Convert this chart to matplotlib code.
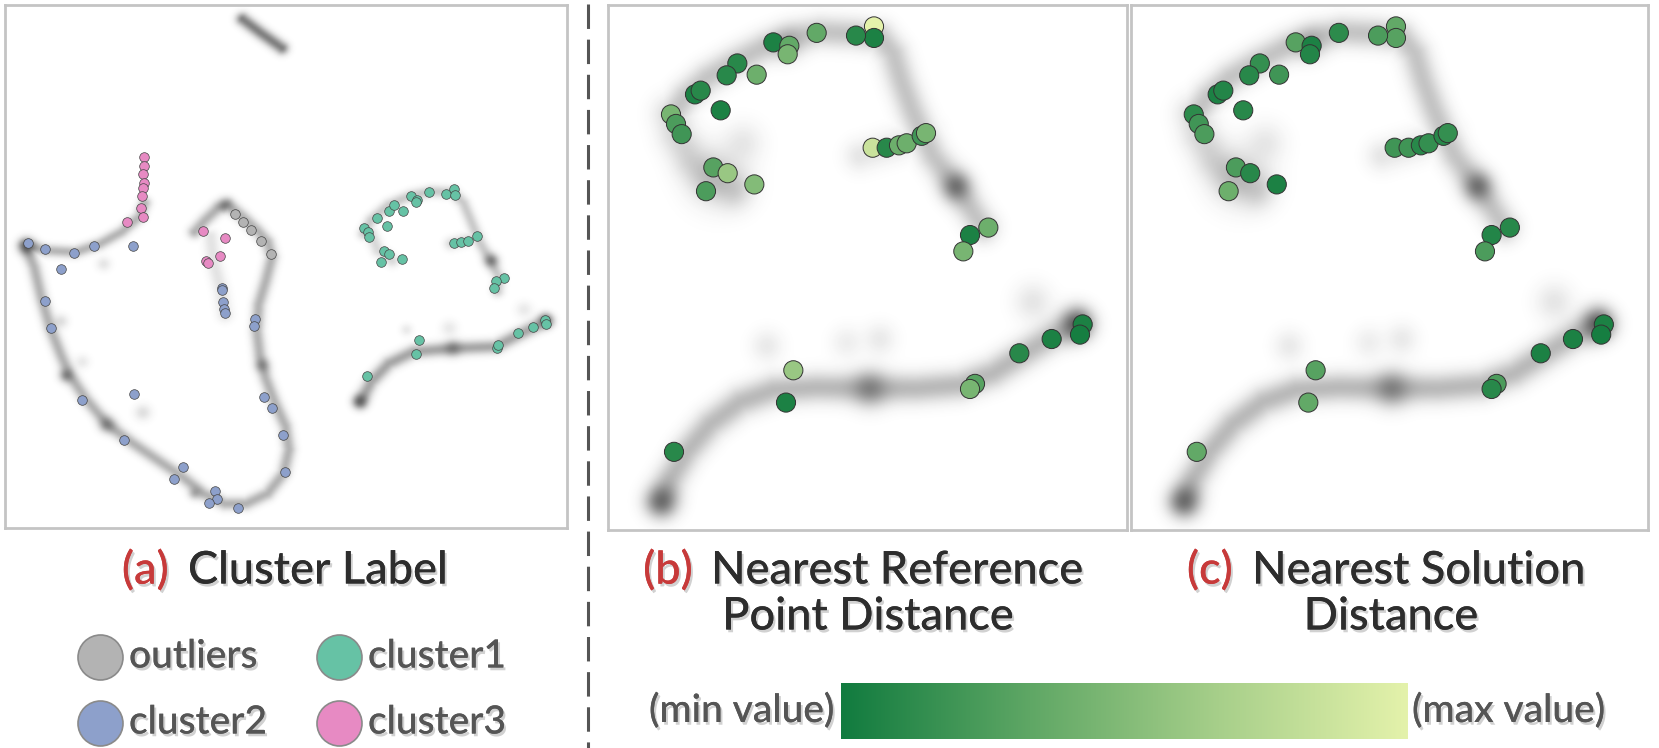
import numpy as np
import matplotlib
matplotlib.use("Agg")
import matplotlib.pyplot as plt
from matplotlib.colors import LinearSegmentedColormap
import matplotlib.patheffects as pe

plt.rcParams['font.family'] = ['Lato', 'DejaVu Sans']

# ---- panel (a): cluster labels (coords in panel pixel units, y down) ----
a_outliers_x = [660, 682, 703, 732, 760]
a_outliers_y = [632, 657, 681, 712, 752]
a_c1_x = [1020, 1030, 1035, 1057, 1089, 1105, 1130, 1083, 1150, 1167, 1166, 1203, 1250, 1273, 1275,
          1272, 1290, 1310, 1335, 1075, 1090, 1066, 1125, 1412, 1390, 1385, 1175, 1165, 1027,
          1393, 1395, 1452, 1492, 1527, 1528]
a_c1_y = [673, 686, 700, 645, 623, 607, 623, 668, 580, 590, 598, 568, 573, 560, 575,
          718, 715, 712, 698, 742, 750, 773, 765, 822, 830, 850, 1005, 1047, 1110,
          1027, 1020, 983, 965, 947, 958]
a_c2_x = [78, 128, 207, 265, 374, 173, 128, 145, 230, 375, 349, 513, 487, 604, 609, 587, 667,
          799, 792, 763, 740, 716, 713, 622, 623, 625, 628, 630]
a_c2_y = [718, 735, 748, 727, 728, 796, 890, 968, 1183, 1165, 1299, 1379, 1416, 1450, 1475, 1485, 1500,
          1395, 1284, 1205, 1172, 942, 963, 850, 857, 893, 913, 925]
a_c3_x = [403, 405, 400, 403, 402, 398, 396, 402, 357, 570, 632, 617, 578, 582]
a_c3_y = [465, 490, 515, 540, 555, 578, 615, 640, 657, 683, 704, 757, 770, 778]

# ---- panels (b), (c): same points, different values (0 = min, 1 = max) ----
bc_x = [822, 822, 768, 650, 520, 568, 563, 470, 412, 380, 285, 302, 362, 213, 228, 245,
        340, 383, 318, 463, 818, 860, 897, 920, 965, 978, 1110, 1165, 1090,
        580, 558, 222, 1125, 1110, 1258, 1355, 1448, 1440]
bc_y = [78, 112, 105, 97, 125, 135, 160, 220, 187, 222, 278, 267, 325, 337, 365, 395,
        493, 510, 563, 543, 435, 435, 428, 422, 400, 392, 692, 670, 740,
        1090, 1185, 1330, 1130, 1145, 1040, 998, 955, 985]
b_val = [1.0, 0.05, 0.1, 0.35, 0.05, 0.35, 0.45, 0.4, 0.1, 0.1, 0.05, 0.1, 0.05, 0.45, 0.25, 0.2,
         0.3, 0.6, 0.25, 0.5, 0.85, 0.1, 0.4, 0.4, 0.2, 0.45, 0.05, 0.4, 0.45,
         0.6, 0.05, 0.1, 0.3, 0.45, 0.1, 0.05, 0.05, 0.02]
c_val = [0.35, 0.3, 0.25, 0.12, 0.3, 0.05, 0.08, 0.2, 0.15, 0.1, 0.05, 0.08, 0.1, 0.12, 0.2, 0.25,
         0.25, 0.1, 0.4, 0.05, 0.2, 0.2, 0.1, 0.15, 0.1, 0.15, 0.08, 0.1, 0.25,
         0.3, 0.35, 0.35, 0.25, 0.1, 0.05, 0.05, 0.05, 0.02]

# ---- background density curves (waypoints, sigma, strength) ----
a_curves = [
    ([(680, 55), (730, 95), (790, 140)], 13, 0.6),
    ([(70, 725), (130, 740), (210, 745), (280, 720), (340, 685), (390, 640), (405, 600)], 12, 0.35),
    ([(70, 725), (95, 790), (115, 880), (140, 970), (170, 1050), (195, 1110), (240, 1180), (300, 1255),
      (370, 1310), (440, 1360), (510, 1410), (570, 1460), (630, 1490), (690, 1490), (750, 1460),
      (795, 1400), (810, 1330), (800, 1260), (770, 1190), (745, 1120), (728, 1050), (720, 980),
      (725, 900), (745, 830), (762, 760), (750, 715), (720, 680), (680, 640), (640, 605),
      (610, 615), (575, 650), (545, 685)], 13, 0.36),
    ([(590, 700), (600, 780), (620, 860), (630, 930)], 15, 0.13),
    ([(1020, 690), (1040, 650), (1090, 605), (1150, 578), (1210, 565), (1270, 568), (1300, 600),
      (1320, 650), (1345, 715), (1375, 770), (1400, 820), (1395, 860)], 12, 0.25),
    ([(1040, 690), (1060, 740), (1100, 770)], 13, 0.18),
    ([(1265, 720), (1340, 700)], 13, 0.18),
    ([(1010, 1190), (1040, 1130), (1090, 1075), (1160, 1040), (1270, 1030), (1390, 1025),
      (1450, 992), (1530, 950)], 14, 0.42),
]
a_blobs = [(75, 728, 16, 0.7), (185, 1110, 14, 0.45), (300, 1255, 16, 0.4), (735, 1080, 14, 0.35),
           (630, 605, 14, 0.4), (545, 1460, 12, 0.3), (290, 780, 14, 0.12), (170, 950, 14, 0.15),
           (230, 1070, 14, 0.1), (400, 1220, 16, 0.15), (1378, 770, 14, 0.5), (1010, 1185, 14, 0.55),
           (1270, 1030, 16, 0.35), (1530, 948, 14, 0.55), (1470, 915, 16, 0.1), (1140, 975, 12, 0.1),
           (1260, 970, 16, 0.1)]

bc_curves = [
    ([(215, 340), (255, 285), (320, 230), (400, 185), (490, 140), (580, 110), (660, 95), (760, 100),
      (840, 110), (880, 160), (905, 240), (935, 320), (965, 390), (1000, 460), (1060, 540),
      (1110, 610), (1150, 670)], 30, 0.28),
    ([(215, 340), (230, 400), (270, 470), (320, 520), (400, 560)], 38, 0.2),
    ([(780, 460), (880, 430), (980, 395)], 32, 0.12),
    ([(180, 1480), (210, 1410), (260, 1330), (330, 1250), (420, 1185), (520, 1150), (650, 1142),
      (800, 1145), (950, 1145), (1080, 1135), (1180, 1100), (1270, 1045), (1360, 990),
      (1440, 955)], 30, 0.33),
]
bc_blobs = [(1070, 550, 30, 0.55), (560, 130, 32, 0.22), (350, 520, 60, 0.18), (430, 420, 40, 0.1),
            (185, 1475, 32, 0.55), (810, 1145, 36, 0.4), (1430, 955, 32, 0.65),
            (1300, 890, 38, 0.12), (500, 1020, 32, 0.1), (740, 1010, 32, 0.08), (840, 1000, 32, 0.1)]

W, H = 1659, 748
fig = plt.figure(figsize=(W / 100, H / 100), dpi=100)


def add_ax(x0, y0, x1, y1):
    return fig.add_axes([x0 / W, 1 - y1 / H, (x1 - x0) / W, (y1 - y0) / H])


def density(curves, blobs, xlim, ylim, n=360):
    xs = np.linspace(xlim[0], xlim[1], n)
    ys = np.linspace(ylim[0], ylim[1], n)  # row 0 = top of panel
    px, py = np.meshgrid(xs, ys)
    img = np.zeros_like(px)
    for pts, sig, k in curves:
        d = np.full_like(px, np.inf)
        for (x0, y0), (x1, y1) in zip(pts[:-1], pts[1:]):
            dx, dy = x1 - x0, y1 - y0
            t = np.clip(((px - x0) * dx + (py - y0) * dy) / (dx * dx + dy * dy), 0, 1)
            d = np.minimum(d, np.hypot(px - x0 - t * dx, py - y0 - t * dy))
        img = np.maximum(img, k * np.exp(-d ** 2 / (2 * sig ** 2)))
    for bx, by, sig, k in blobs:
        g = k * np.exp(-((px - bx) ** 2 + (py - by) ** 2) / (2 * sig ** 2))
        img = 1 - (1 - img) * (1 - g)
    rgba = np.zeros(img.shape + (4,))
    rgba[..., :3] = 0.18
    rgba[..., 3] = np.clip(img, 0, 1)
    return rgba


def style_panel(ax, xlim, ylim):
    ax.set_xlim(*xlim)
    ax.set_ylim(ylim[1], ylim[0])
    ax.set_xticks([])
    ax.set_yticks([])
    for s in ax.spines.values():
        s.set_color('#c4c4c4')
        s.set_linewidth(2)


# panel (a)
xa, ya = (15, 1588), (15, 1560)
ax_a = add_ax(5, 5, 567, 528)
ax_a.imshow(density(a_curves, a_blobs, xa, ya), extent=(xa[0], xa[1], ya[1], ya[0]),
            origin='upper', aspect='auto', interpolation='bilinear')
cl_colors = {'outliers': '#b3b3b3', 'cluster1': '#66c2a5', 'cluster2': '#8da0cb', 'cluster3': '#e78ac3'}
for xs_, ys_, name in [(a_outliers_x, a_outliers_y, 'outliers'), (a_c1_x, a_c1_y, 'cluster1'),
                       (a_c2_x, a_c2_y, 'cluster2'), (a_c3_x, a_c3_y, 'cluster3')]:
    ax_a.scatter(xs_, ys_, s=48, c=cl_colors[name], edgecolors='#444444', linewidths=0.5, zorder=3)
style_panel(ax_a, xa, ya)

# panels (b) and (c)
cmap = LinearSegmentedColormap.from_list('dist', ['#117b3f', '#5fa765', '#a7cf8a', '#e4f2ab'])
xb, yb = (24, 1581), (15, 1560)
bg = density(bc_curves, bc_blobs, xb, yb)
for (x0, x1), vals in [((608, 1127), b_val), ((1131, 1648), c_val)]:
    ax = add_ax(x0, 5, x1, 530)
    ax.imshow(bg, extent=(xb[0], xb[1], yb[1], yb[0]), origin='upper', aspect='auto',
              interpolation='bilinear')
    ax.scatter(bc_x, bc_y, s=190, c=vals, cmap=cmap, vmin=0, vmax=1,
               edgecolors='#333333', linewidths=0.7, zorder=3)
    style_panel(ax, xb, yb)

# overlay in pixel coordinates for texts, legend and separator
ov = fig.add_axes([0, 0, 1, 1], zorder=5)
ov.set_xlim(0, W)
ov.set_ylim(H, 0)
ov.axis('off')
ov.patch.set_alpha(0)

ov.plot([588, 588], [4, H], color='#555555', lw=2.2, linestyle=(0, (8, 3.5)), solid_capstyle='butt')

shadow = [pe.withSimplePatchShadow(offset=(1.5, -2), shadow_rgbFace='#000000', alpha=0.18), pe.Normal()]
red = '#c73a3a'
dark = '#2d2d2d'
tfs = 32.5
fw = 'medium'
titles = [(169, 188, 571, '(a)', 'Cluster Label'),
          (693, 711, 571, '(b)', 'Nearest Reference'),
          (1233, 1252, 571, '(c)', 'Nearest Solution')]
for xr, xl, y, lab, txt in titles:
    ov.text(xr, y, lab, color=red, fontsize=tfs, fontweight=fw, ha='right', va='center', path_effects=shadow)
    ov.text(xl, y, txt, color=dark, fontsize=tfs, fontweight=fw, ha='left', va='center', path_effects=shadow)
ov.text(868, 617, 'Point Distance', color=dark, fontsize=tfs, fontweight=fw, ha='center', va='center',
        path_effects=shadow)
ov.text(1391, 617, 'Distance', color=dark, fontsize=tfs, fontweight=fw, ha='center', va='center',
        path_effects=shadow)

# legend for panel (a)
leg = [('outliers', 100, 657), ('cluster1', 339, 657), ('cluster2', 100, 723), ('cluster3', 339, 723)]
for name, cx, cy in leg:
    ov.scatter([cx], [cy], s=1050, c=cl_colors[name], edgecolors='#8a8a8a', linewidths=1.2)
    ov.text(cx + 29, cy, name, color='#555555', fontsize=28, fontweight=fw, ha='left', va='center',
            path_effects=shadow)

# colorbar
cax = add_ax(841, 683, 1407, 739)
cax.imshow(np.linspace(0, 1, 256)[None, :], cmap=cmap, aspect='auto')
cax.set_xticks([])
cax.set_yticks([])
for s in cax.spines.values():
    s.set_visible(False)
ov.text(834, 711, '(min value)', color='#555555', fontsize=28, fontweight=fw, ha='right', va='center',
        path_effects=shadow)
ov.text(1412, 711, '(max value)', color='#555555', fontsize=28, fontweight=fw, ha='left', va='center',
        path_effects=shadow)

fig.savefig('out.png', dpi=100)
